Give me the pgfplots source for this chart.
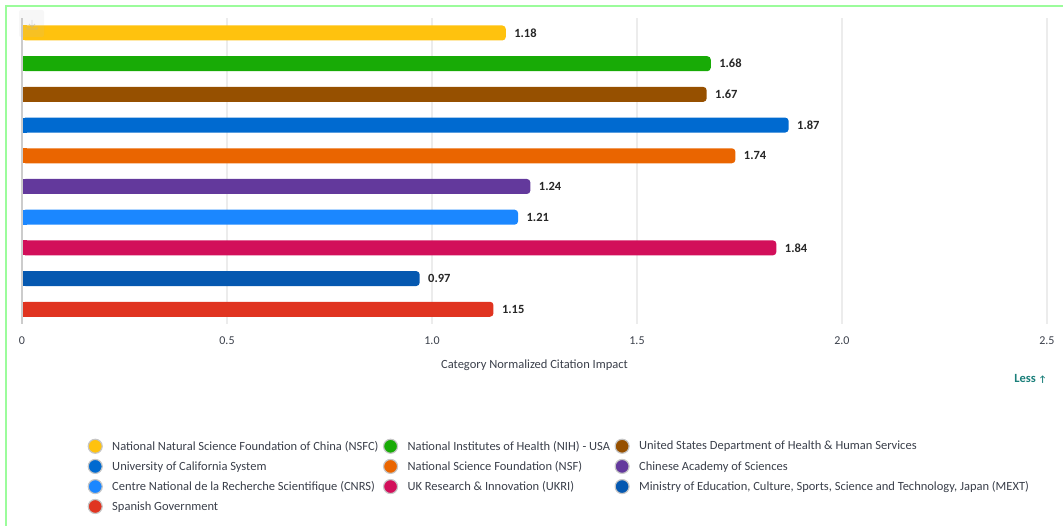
\documentclass[border=0pt]{standalone}
\usepackage{pgfplots}
\pgfplotsset{compat=1.18}
\usepackage{fontspec}
\setmainfont{Carlito}
\definecolor{txt}{HTML}{3A3F4A}
\definecolor{cA}{HTML}{FFC20E}
\definecolor{cB}{HTML}{18AB06}
\definecolor{cC}{HTML}{965000}
\definecolor{cD}{HTML}{006AD0}
\definecolor{cE}{HTML}{EA6500}
\definecolor{cF}{HTML}{63399C}
\definecolor{cG}{HTML}{1B87FF}
\definecolor{cH}{HTML}{D20F5A}
\definecolor{cI}{HTML}{0558B0}
\definecolor{cJ}{HTML}{E03420}
\definecolor{teal2}{HTML}{1B7F7A}
% one bar: rounded whole bar with its value, square part over the left end
\newcommand{\onebar}[3]{%
  \addplot[forget plot,xbar,bar shift=0pt,fill=#1,draw=none,rounded corners=3.5pt,
    nodes near coords,
    every node near coord/.append style={font=\fontsize{12.5}{12}\selectfont\bfseries,text=black!85,anchor=west,xshift=5pt,
      /pgf/number format/assume math mode=true,/pgf/number format/fixed,/pgf/number format/fixed zerofill,/pgf/number format/precision=2}]
    coordinates {(#3,#2)};
  \addplot[forget plot,xbar,bar shift=0pt,fill=#1,draw=none] coordinates {(0.012,#2)};
}
\newcommand{\leg}[2]{\addlegendimage{only marks,mark=*,mark size=7pt,mark options={fill=#1,draw=gray!45,line width=1.2pt}}\addlegendentry{#2}}
\begin{document}
\begin{tikzpicture}[x=1pt,y=1pt]
\useasboundingbox (0,0) rectangle (1063,526);
\draw[color={rgb,255:red,155;green,252;blue,155},line width=2pt] (6,0) -- (6,519.5) -- (1063,519.5);
\begin{axis}[
  at={(22pt,202pt)},anchor=south west,
  width=1025pt,height=306pt,scale only axis,
  xmin=0,xmax=2.5,ymin=-0.4886,ymax=9.48,
  y dir=reverse,
  axis line style={draw=none},
  axis x line*=bottom,
  axis y line=none,
  xtick={0,0.5,1,1.5,2,2.5},
  xticklabels={0,0.5,1.0,1.5,2.0,2.5},
  tick style={draw=none},
  xmajorgrids,
  major grid style={draw=gray!15,line width=1.3pt},
  xticklabel style={font=\fontsize{12}{12}\selectfont,text=txt,yshift=-9pt},
  xlabel={Category Normalized Citation Impact},
  xlabel style={font=\fontsize{12.5}{12}\selectfont,text=txt,yshift=-9pt},
  bar width=15pt,
  clip=false,
  legend columns=3,
  legend cell align=left,
  legend style={at={(axis description cs:0.0615,-0.3685)},anchor=north west,draw=none,fill=none,
    font=\fontsize{12.5}{12}\selectfont,text=txt,
    row sep=5.5pt,
    /tikz/every even column/.append style={column sep=3pt},
    /tikz/every odd column/.append style={column sep=8pt}},
]
\onebar{cA}{0}{1.18}
\onebar{cB}{1}{1.68}
\onebar{cC}{2}{1.67}
\onebar{cD}{3}{1.87}
\onebar{cE}{4}{1.74}
\onebar{cF}{5}{1.24}
\onebar{cG}{6}{1.21}
\onebar{cH}{7}{1.84}
\onebar{cI}{8}{0.97}
\onebar{cJ}{9}{1.15}
\leg{cA}{National Natural Science Foundation of China (NSFC)}
\leg{cB}{National Institutes of Health (NIH) - USA}
\leg{cC}{United States Department of Health \& Human Services}
\leg{cD}{University of California System}
\leg{cE}{National Science Foundation (NSF)}
\leg{cF}{Chinese Academy of Sciences}
\leg{cG}{Centre National de la Recherche Scientifique (CNRS)}
\leg{cH}{UK Research \& Innovation (UKRI)}
\leg{cI}{Ministry of Education, Culture, Sports, Science and Technology, Japan (MEXT)}
\leg{cJ}{Spanish Government}
\end{axis}
\draw[gray!40,line width=1.3pt] (22,202) -- (22,508);
\node[anchor=east,font=\fontsize{12.5}{12}\selectfont\bfseries,text=teal2,inner sep=0pt] at (1047,147) {Less {\fontsize{9}{9}\selectfont\textuparrow}};
\fill[gray!50,opacity=0.12,rounded corners=2pt] (19,489) rectangle (44,516);
\draw[gray!60,opacity=0.5,line width=0.8pt] (32,506) -- (32,499) (29,502) -- (32,499) -- (35,502) (27,499) -- (27,497) -- (37,497) -- (37,499);
\end{tikzpicture}
\end{document}
